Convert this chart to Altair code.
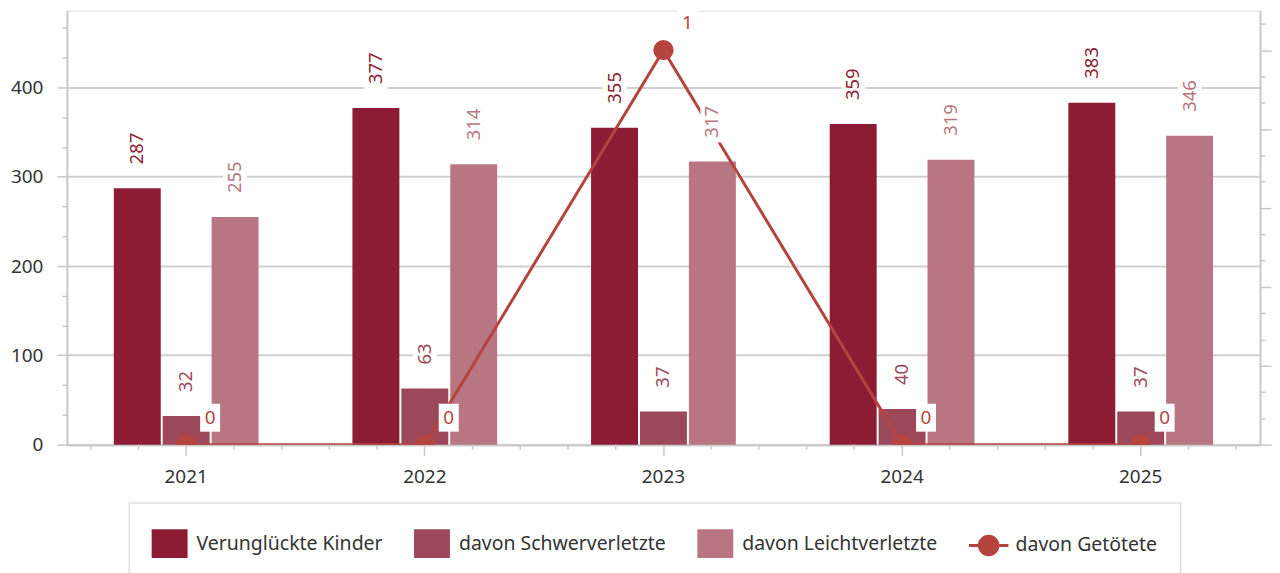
import altair as alt
import pandas as pd

years = ["2021", "2022", "2023", "2024", "2025"]
series_bars = ["Verunglückte Kinder", "davon Schwerverletzte", "davon Leichtverletzte"]
series_line = "davon Getötete"
kinder = [287, 377, 355, 359, 383]
schwer = [32, 63, 37, 40, 37]
leicht = [255, 314, 317, 319, 346]
getoetete = [0, 0, 1, 0, 0]
colors = ["#8B1C34", "#9D475B", "#B77682", "#B5443F"]

all_series = series_bars + [series_line]

bars_df = pd.DataFrame({
    "year": years * 3,
    "series": [s for s in series_bars for _ in years],
    "value": kinder + schwer + leicht,
})
line_df = pd.DataFrame({"year": years, "series": series_line, "value": getoetete})
years_df = pd.DataFrame({"year": years})

FONT = "Noto Sans"
GRID = "#d0d0d0"
AX = "#c8c8c8"

SQ = "M-1,-0.8H1V0.8H-1Z"
LC = "M-1.1,-0.085H1.1V0.085H-1.1Z M0.6,0A0.6,0.6,0,1,1,-0.6,0A0.6,0.6,0,1,1,0.6,0Z"
BOX3 = "M-12,-19H12V-61H-12Z"
BOX2 = "M-12,-19H12V-50H-12Z"
LBOX = "M14,-13H34V-41H14Z"

legend_def = alt.Legend(
    title=None, orient="none", legendX=62, legendY=493, direction="horizontal",
    columns=4, padding=23, strokeColor=GRID, fillColor="white",
    labelFont=FONT, labelFontSize=19.5, labelColor="#333", labelLimit=0,
    symbolSize=1296, symbolStrokeWidth=0, symbolOpacity=1,
    symbolType={"expr": "datum.value === '" + series_line + "' ? '" + LC + "' : '" + SQ + "'"},
    columnPadding=31, labelOffset=9,
)

color = alt.Color("series:N", scale=alt.Scale(domain=all_series, range=colors), legend=legend_def)

x_axis = alt.Axis(title=None, labelAngle=0, labelFont=FONT, labelFontSize=19, labelColor="#333",
                  tickSize=11, tickColor=AX, tickWidth=1.5, domainColor=AX, domainWidth=2,
                  labelPadding=12, grid=False)
x_scale = alt.Scale(paddingInner=0, paddingOuter=0)
x = alt.X("year:N", scale=x_scale, axis=x_axis, title=None)
xo = alt.XOffset("series:N", scale=alt.Scale(domain=series_bars, paddingInner=0.04, paddingOuter=0.96))

major_l = "round(datum.value) % 100 === 0"
left_vals = [k * 100 / 3 for k in range(15)]
left_scale = alt.Scale(domain=[0, 486], nice=False)
y_left = alt.Y("value:Q", scale=left_scale, title=None, axis=alt.Axis(
    values=left_vals, orient="left", format="d",
    labelExpr="round(datum.value) % 100 === 0 ? datum.label : ''",
    labelFont=FONT, labelFontSize=19, labelColor="#333", labelPadding=14,
    tickSize={"condition": {"test": major_l, "value": 10}, "value": 5},
    tickColor=AX, tickWidth=1.5, domainColor=AX, domainWidth=2,
    gridColor=GRID, gridWidth=2,
    gridOpacity={"condition": {"test": major_l, "value": 1}, "value": 0},
))
y_left_na = alt.Y("value:Q", scale=left_scale, title=None, axis=None)

major_r = "round(datum.value * 15) % 3 === 0"
right_vals = [k / 15 for k in range(17)]
right_scale = alt.Scale(domain=[0, 1.1], nice=False)
y_right = alt.Y("value:Q", scale=right_scale, title=None, axis=alt.Axis(
    values=right_vals, orient="right", labels=False, grid=False,
    tickSize={"condition": {"test": major_r, "value": 11}, "value": 5},
    tickColor=AX, tickWidth=1.5, domainColor=AX, domainWidth=2,
))
y_right_na = alt.Y("value:Q", scale=right_scale, title=None, axis=None)

# group 1: bars + minor x ticks
bars = alt.Chart(bars_df).mark_bar().encode(x=x, xOffset=xo, y=y_left, color=color)
minor = []
for bp in [0.1, 0.3, 0.7, 0.9]:
    minor.append(
        alt.Chart(years_df).mark_rule(color=AX, strokeWidth=1.5).encode(
            x=alt.X("year:N", bandPosition=bp, scale=x_scale, axis=x_axis, title=None),
            y=alt.value(435), y2=alt.value(440))
    )
g1 = alt.layer(bars, *minor)

# group 2: line + points
line = alt.Chart(line_df).mark_line(strokeWidth=3, clip=True).encode(x=x, y=y_right, color=color)
pts = alt.Chart(line_df).mark_point(filled=True, size=415, opacity=1, clip=True).encode(
    x=x, y=y_right, color=color)
g2 = alt.layer(line, pts)

# group 3: bar labels with white boxes
box3 = alt.Chart(bars_df).transform_filter("datum.value >= 100").mark_point(
    shape=BOX3, size=4, filled=True, fill="white", opacity=1, strokeWidth=0).encode(
    x=x, xOffset=xo, y=y_left_na)
box2 = alt.Chart(bars_df).transform_filter("datum.value < 100").mark_point(
    shape=BOX2, size=4, filled=True, fill="white", opacity=1, strokeWidth=0).encode(
    x=x, xOffset=xo, y=y_left_na)
btxt = alt.Chart(bars_df).mark_text(angle=270, align="left", baseline="middle", dx=24,
                                    font=FONT, fontSize=18.5).encode(
    x=x, xOffset=xo, y=y_left_na, text="value:Q", color=color)
g3 = alt.layer(box3, box2, btxt)

# group 4: line labels
lbox = alt.Chart(line_df).mark_point(shape=LBOX, size=4, filled=True, fill="white",
                                     opacity=1, strokeWidth=0).encode(x=x, y=y_right_na)
ltxt = alt.Chart(line_df).mark_text(dx=24, dy=-27, align="center", baseline="middle",
                                    font=FONT, fontSize=19).encode(
    x=x, y=y_right_na, text="value:Q", color=color)
g4 = alt.layer(lbox, ltxt)

chart = alt.layer(g1, g2, g3, g4).resolve_scale(y="independent").properties(
    width=1196, height=435,
    autosize=alt.AutoSizeParams(type="none"),
    padding={"left": 59, "top": 2, "right": 12, "bottom": 128},
).configure_view(stroke=GRID, strokeWidth=2).configure(font=FONT)

chart.save("out.html", embed_options={"renderer": "svg", "actions": False})
